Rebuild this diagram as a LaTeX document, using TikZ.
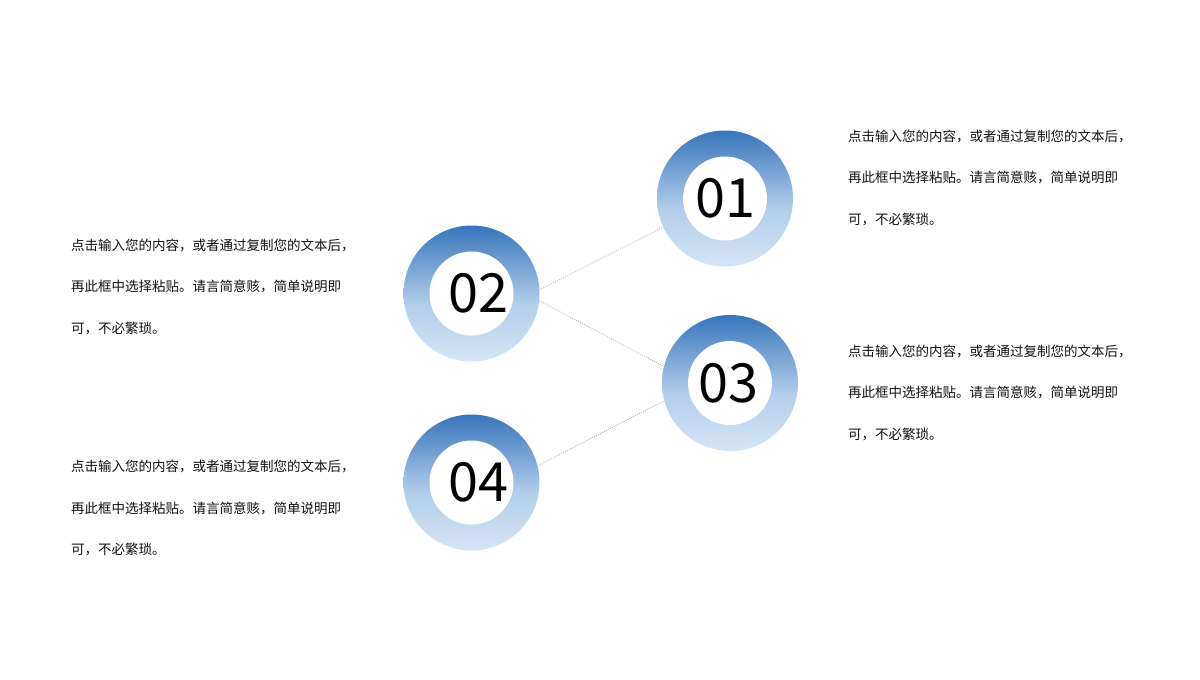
\documentclass[tikz,border=0pt]{standalone}
\usepackage{fontspec}
\newfontfamily\cjk{Noto Sans CJK SC}
\definecolor{ringtop}{HTML}{3875BB}
\definecolor{ringmid}{HTML}{B2CEEB}
\definecolor{ringbot}{HTML}{D5E5F6}
\definecolor{linkgray}{HTML}{A0A0A0}
\definecolor{bodytext}{HTML}{111111}
\pgfdeclareverticalshading{ringshade}{100bp}{color(0bp)=(ringbot); color(25bp)=(ringbot); color(46bp)=(ringmid); color(75bp)=(ringtop); color(100bp)=(ringtop)}
\tikzset{
  ring/.style={circle, minimum size=136pt, inner sep=0pt, outer sep=0pt, shading=ringshade},
  hole/.style={circle, minimum size=84pt, inner sep=0pt, outer sep=0pt, fill=white},
  numtext/.style={inner sep=0pt, text=black, font=\cjk\fontsize{54}{60}\selectfont},
  link/.style={draw=linkgray, line width=0.6pt, dash pattern=on 1pt off 1.2pt},
  desc/.style={anchor=west, align=left, inner sep=0pt, text=bodytext, font=\cjk\fontsize{13.5}{41.5}\selectfont}
}
\begin{document}
\begin{tikzpicture}[x=1pt,y=-1pt]
\useasboundingbox[fill=white] (0,0) rectangle (1200,680);
% rings
\node[ring] (c1) at (725,198.5) {};
\node[ring] (c2) at (471.5,293.5) {};
\node[ring] (c3) at (730,383) {};
\node[ring] (c4) at (471.5,482.5) {};
\node[hole] (h1) at (c1) {};
\node[hole] (h2) at (c2) {};
\node[hole] (h3) at (c3) {};
\node[hole] (h4) at (c4) {};
\node[numtext] (n1) at (725,198.5) {01};
\node[numtext] (n2) at (478,293.5) {02};
\node[numtext] (n3) at (728.5,383) {03};
\node[numtext] (n4) at (478,482.5) {04};
% connectors
\draw[link] (c2.3) -- (c1.205);
\draw[link] (c2.-6) -- (c3.166);
\draw[link] (c4.14) -- (c3.195);
% descriptions
\node[desc] (t1) at (848,178) {点击输入您的内容，或者通过复制您的文本后，\\再此框中选择粘贴。请言简意赅，简单说明即\\可，不必繁琐。};
\node[desc] (t2) at (71,287) {点击输入您的内容，或者通过复制您的文本后，\\再此框中选择粘贴。请言简意赅，简单说明即\\可，不必繁琐。};
\node[desc] (t3) at (848,393) {点击输入您的内容，或者通过复制您的文本后，\\再此框中选择粘贴。请言简意赅，简单说明即\\可，不必繁琐。};
\node[desc] (t4) at (71,508) {点击输入您的内容，或者通过复制您的文本后，\\再此框中选择粘贴。请言简意赅，简单说明即\\可，不必繁琐。};
\end{tikzpicture}
\end{document}
